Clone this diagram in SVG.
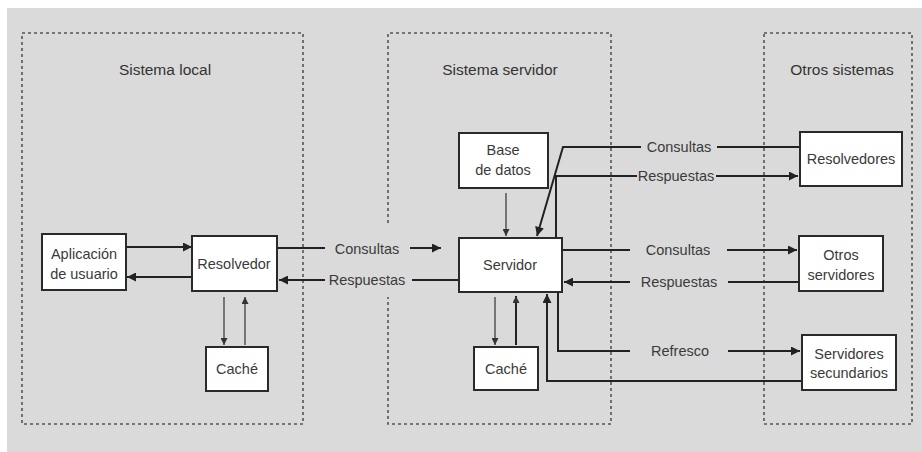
<svg xmlns="http://www.w3.org/2000/svg" width="922" height="452" viewBox="0 0 922 452">
<defs>
<style>
.frame{fill:none;stroke:#555;stroke-width:1.6;stroke-dasharray:3 3}
.box{fill:#fff;stroke:#2a2a2a;stroke-width:2}
.shadow{fill:#8a8a8a}
.c{fill:none;stroke:#222;stroke-width:2}
.t{fill:none;stroke:#333;stroke-width:1.2}
.title{font-family:"Liberation Sans",Arial,sans-serif;font-size:15.5px;fill:#333;text-anchor:middle}
.lbl{font-family:"Liberation Sans",Arial,sans-serif;font-size:14.5px;fill:#3a3a3a;text-anchor:middle}
</style>
<marker id="ah" viewBox="0 0 10 10" refX="10" refY="5" markerWidth="10" markerHeight="9" orient="auto" markerUnits="userSpaceOnUse"><path d="M0,0 L10,5 L0,10 z" fill="#222"/></marker>
<marker id="as" viewBox="0 0 10 10" refX="10" refY="5" markerWidth="8" markerHeight="7" orient="auto" markerUnits="userSpaceOnUse"><path d="M0,0 L10,5 L0,10 z" fill="#333"/></marker>
</defs>
<rect x="0" y="0" width="922" height="452" fill="#fff"/>
<rect x="7" y="8" width="915" height="444" fill="#dadada"/>

<g id="frames">
<rect class="frame" x="22" y="33" width="281" height="391"/>
<path class="frame" d="M388,223 V33 H611 V424 H388 V297"/>
<rect class="frame" x="764" y="33" width="148" height="391"/>
<text class="title" x="165" y="75">Sistema local</text>
<text class="title" x="500" y="75">Sistema servidor</text>
<text class="title" x="842" y="75">Otros sistemas</text>
</g>

<g id="connectors">
<path class="c" d="M126,247 H192" marker-end="url(#ah)"/>
<path class="c" d="M192,277 H127" marker-end="url(#ah)"/>
<path class="t" d="M224,297 V345" marker-end="url(#as)"/>
<path class="t" d="M245,345 V297" marker-end="url(#as)"/>
<path class="c" d="M277,248 H325"/>
<path class="c" d="M410,248 H441" marker-end="url(#ah)"/>
<path class="c" d="M459,280 H412"/>
<path class="c" d="M325,280 H279" marker-end="url(#ah)"/>
<path class="t" d="M506,193 V236" marker-end="url(#as)"/>
<path class="t" d="M495,297 V345" marker-end="url(#as)"/>
<path class="c" d="M516,345 V296" marker-end="url(#as)"/>
<path class="c" d="M800,147 H717"/>
<path class="c" d="M641,147 H563 L537,236" marker-end="url(#ah)"/>
<path class="c" d="M556,238 V176 H637"/>
<path class="c" d="M716,176 H798" marker-end="url(#ah)"/>
<path class="c" d="M562,250 H630"/>
<path class="c" d="M727,250 H797" marker-end="url(#ah)"/>
<path class="c" d="M799,282 H728"/>
<path class="c" d="M630,282 H564" marker-end="url(#ah)"/>
<path class="c" d="M558,292 V351 H630"/>
<path class="c" d="M728,351 H800" marker-end="url(#ah)"/>
<path class="c" d="M802,381 H547 V294" marker-end="url(#ah)"/>
<text class="lbl" x="367" y="254">Consultas</text>
<text class="lbl" x="367" y="285">Respuestas</text>
<text class="lbl" x="679" y="152">Consultas</text>
<text class="lbl" x="676" y="181">Respuestas</text>
<text class="lbl" x="678" y="255">Consultas</text>
<text class="lbl" x="679" y="287">Respuestas</text>
<text class="lbl" x="680" y="356">Refresco</text>
</g>

<g id="aplicacion">
<rect class="box" x="42" y="234" width="84" height="56"/>
<text class="lbl" x="84" y="259">Aplicación</text>
<text class="lbl" x="84" y="279">de usuario</text>
</g>
<g id="resolvedor">
<rect class="box" x="192" y="236" width="85" height="55"/>
<text class="lbl" x="234" y="269">Resolvedor</text>
</g>
<g id="cache-local">
<rect class="box" x="206" y="347" width="62" height="44"/>
<text class="lbl" x="237" y="374">Caché</text>
</g>
<g id="base-datos">
<rect class="box" x="459" y="133" width="89" height="55"/>
<text class="lbl" x="503" y="155">Base</text>
<text class="lbl" x="503" y="175">de datos</text>
</g>
<g id="servidor">
<rect class="box" x="459" y="238" width="103" height="54"/>
<text class="lbl" x="510" y="270">Servidor</text>
</g>
<g id="cache-servidor">
<rect class="box" x="474" y="347" width="64" height="43"/>
<text class="lbl" x="506" y="374">Caché</text>
</g>
<g id="resolvedores">
<rect class="box" x="800" y="132" width="102" height="54"/>
<text class="lbl" x="851" y="164">Resolvedores</text>
</g>
<g id="otros-servidores">
<rect class="box" x="799" y="236" width="84" height="55"/>
<text class="lbl" x="841" y="260">Otros</text>
<text class="lbl" x="841" y="280">servidores</text>
</g>
<g id="servidores-secundarios">
<rect class="box" x="802" y="335" width="94" height="55"/>
<text class="lbl" x="849" y="359">Servidores</text>
<text class="lbl" x="849" y="378">secundarios</text>
</g>
</svg>
